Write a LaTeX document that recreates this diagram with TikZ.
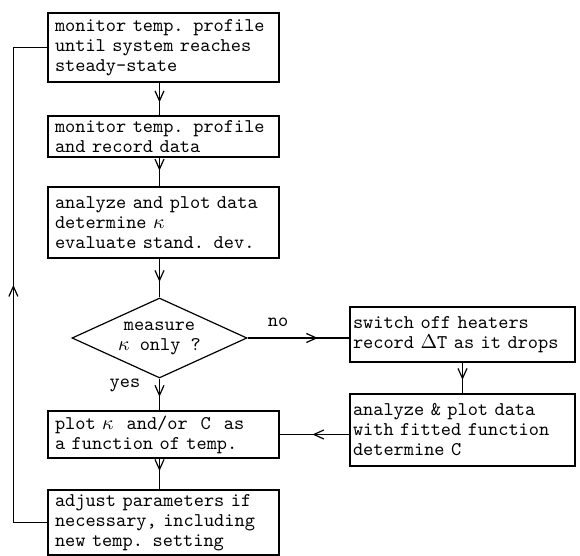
\documentclass[tikz,border=0pt]{standalone}
\usetikzlibrary{shapes.geometric,decorations.markings,arrows.meta}
\tikzset{
  flowbox/.style={draw, rectangle, align=left, inner xsep=3.5pt, inner ysep=0pt,
    text width=108.5pt, minimum height=#1},
  rbox/.style={flowbox=#1, inner xsep=1.5pt, text width=109.5pt},
  decide/.style={draw, diamond, aspect=2.2, inner sep=0pt, align=center,
    minimum width=87.5pt, minimum height=40pt},
  midarrow/.style={postaction={decorate},
    decoration={markings, mark=at position #1 with {\arrow{Straight Barb[length=5pt,width=4.5pt]}}}},
  flow/.style={midarrow=#1},
}
\begin{document}
\begin{tikzpicture}[x=0.5pt, y=-0.5pt, line width=0.6pt,
  font=\fontsize{9.7}{10}\selectfont\ttfamily]
\useasboundingbox (0,0) rectangle (580,556);

\node[flowbox=34.5pt] (monitor) at (163.5,47.5) {monitor temp. profile\\until system reaches\\steady\textendash state};
\node[flowbox=20.5pt] (record) at (163.5,136.5) {monitor temp. profile\\and record data};
\node[flowbox=35.5pt] (analyze) at (163.5,222.5) {analyze and plot data\\determine $\kappa$\\evaluate stand. dev.};
\node[decide] (measure) at (159.5,338) {measure\\$\kappa$ only ?};
\node[flowbox=23.5pt] (plot) at (163.5,434.5) {plot $\kappa$\ \ and/or\ \ C\ \ as\\a function of temp.};
\node[flowbox=32.5pt] (adjust) at (163.5,522.5) {adjust parameters if\\necessary, including\\new temp. setting};
\node[rbox=27.5pt] (heaters) at (462.5,334.5) {switch off heaters\\record $\Delta$T as it drops};
\node[rbox=36pt] (fit) at (462.5,430) {analyze \& plot data\\with fitted function\\determine C};

\draw[flow=0.6] (monitor.south -| measure) -- (record.north -| measure);
\draw[flow=0.45] (record.south -| measure) -- (analyze.north -| measure);
\draw[flow=0.6] (analyze.south -| measure) -- (measure.north);
\draw[flow=0.57] (measure.south) -- (plot.north -| measure) node[pos=0.2, left=6pt] {yes};
\draw[flow=0.69] (measure.east) -- (measure.east -| heaters.west) node[pos=0.3, above=2pt] {no};
\draw[flow=0.56] (heaters) -- (fit);
\draw[flow=0.53] (plot.east -| fit.west) -- (plot.east);
\draw[flow=0.4] (plot.south -| measure) -- (adjust.north -| measure);
\draw[flow=0.5] (adjust.west) -- ++(-34,0) |- (monitor.west);
\end{tikzpicture}
\end{document}
